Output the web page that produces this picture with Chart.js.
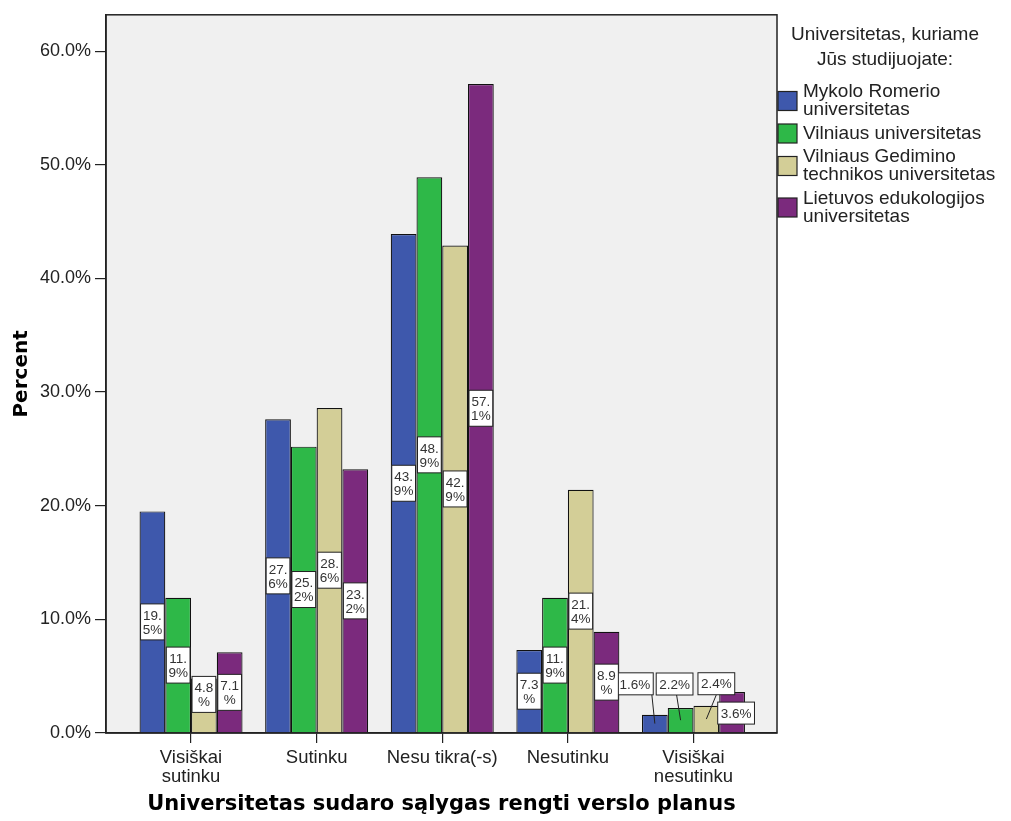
<!DOCTYPE html>
<html>
<head>
<meta charset="utf-8">
<script src="https://cdn.jsdelivr.net/npm/chart.js@4.4.1/dist/chart.umd.min.js"></script>
<style>
  html, body { margin: 0; padding: 0; background: #fff; }
</style>
</head>
<body>
<canvas id="chart" width="1011" height="821"></canvas>
<script>
// --- data ---
const categories = [['Visiškai', 'sutinku'], 'Sutinku', 'Nesu tikra(-s)', 'Nesutinku', ['Visiškai', 'nesutinku']];
const seriesNames = [
    ['Mykolo Romerio', 'universitetas'],
    ['Vilniaus universitetas'],
    ['Vilniaus Gedimino', 'technikos universitetas'],
    ['Lietuvos edukologijos', 'universitetas']
];
const mruValues  = [19.5, 27.6, 43.9, 7.3, 1.6];
const vuValues   = [11.9, 25.2, 48.9, 11.9, 2.2];
const vgtuValues = [4.8, 28.6, 42.9, 21.4, 2.4];
const leuValues  = [7.1, 23.2, 57.1, 8.9, 3.6];
const yTicks = [0, 10, 20, 30, 40, 50, 60];
const legendTitle = ['Universitetas, kuriame', 'Jūs studijuojate:'];
const xTitle = 'Universitetas sudaro sąlygas rengti verslo planus';

const colors = ['#3e58ac', '#2eb848', '#d3ce97', '#7b2a7d'];
const allValues = [mruValues, vuValues, vgtuValues, leuValues];

// label placement for the last (small) group: offset from bar centre / bar top,
// plus where the leader line leaves the box
const smallLabelOffsets = [[-20, -31], [-6, -24], [10, -22], [4, 21]];
const leaderStartDx = [17, 2, 0, 0];

// --- plugin: grey plot background + frame ---
const framePlugin = {
    id: 'frame',
    beforeDraw(chart) {
        const { ctx, chartArea: a } = chart;
        ctx.save();
        ctx.fillStyle = '#f0f0f0';
        ctx.fillRect(a.left, a.top, a.right - a.left, a.bottom - a.top);
        ctx.restore();
    },
    afterDraw(chart) {
        const { ctx, chartArea: a } = chart;
        ctx.save();
        ctx.strokeStyle = '#222';
        ctx.lineWidth = 1.5;
        ctx.strokeRect(a.left, a.top, a.right - a.left, a.bottom - a.top);
        ctx.restore();
    }
};

// --- plugin: white value boxes on bars ---
const labelPlugin = {
    id: 'barLabels',
    afterDatasetsDraw(chart) {
        const ctx = chart.ctx;
        const last = categories.length - 1;
        ctx.save();
        ctx.font = '13.5px "Liberation Sans"';
        ctx.textAlign = 'center';
        ctx.textBaseline = 'middle';
        chart.data.datasets.forEach((ds, di) => {
            chart.getDatasetMeta(di).data.forEach((bar, i) => {
                const text = ds.data[i].y.toFixed(1) + '%';
                const midY = (bar.y + bar.base) / 2;
                if (i === last) {
                    const [dx, dy] = smallLabelOffsets[di];
                    const w = ctx.measureText(text).width + 6, h = 22;
                    const cx = bar.x + dx, cy = bar.y + dy;
                    if (dy < 0) {
                        ctx.strokeStyle = '#222';
                        ctx.lineWidth = 1;
                        ctx.beginPath();
                        ctx.moveTo(cx + leaderStartDx[di], cy + h / 2);
                        ctx.lineTo(bar.x, midY);
                        ctx.stroke();
                    }
                    ctx.fillStyle = '#fff';
                    ctx.fillRect(cx - w / 2, cy - h / 2, w, h);
                    ctx.strokeStyle = '#222';
                    ctx.lineWidth = 1;
                    ctx.strokeRect(cx - w / 2, cy - h / 2, w, h);
                    ctx.fillStyle = '#333';
                    ctx.fillText(text, cx, cy + 1);
                } else {
                    const w = bar.width - 2, h = 36;
                    const cy = Math.min(midY, bar.base - 38);
                    ctx.fillStyle = '#fff';
                    ctx.fillRect(bar.x - w / 2, cy - h / 2, w, h);
                    ctx.strokeStyle = '#222';
                    ctx.lineWidth = 1;
                    ctx.strokeRect(bar.x - w / 2, cy - h / 2, w, h);
                    ctx.fillStyle = '#333';
                    ctx.fillText(text.slice(0, 3), bar.x, cy - 6);
                    ctx.fillText(text.slice(3), bar.x, cy + 8);
                }
            });
        });
        ctx.restore();
    }
};

// --- plugin: SPSS-like legend on the right ---
const legendPlugin = {
    id: 'sideLegend',
    afterDraw(chart) {
        const ctx = chart.ctx;
        ctx.save();
        ctx.fillStyle = '#222';
        ctx.textBaseline = 'middle';
        ctx.font = '19px "Liberation Sans"';
        ctx.textAlign = 'center';
        ctx.fillText(legendTitle[0], 885, 35);
        ctx.fillText(legendTitle[1], 885, 60);

        ctx.font = '19px "Liberation Sans"';
        ctx.textAlign = 'left';
        let y = 92;
        seriesNames.forEach((lines, i) => {
            const first = y, lastY = y + (lines.length - 1) * 18;
            const mid = (first + lastY) / 2;
            ctx.fillStyle = colors[i];
            ctx.fillRect(778, mid - 9.5, 19, 19);
            ctx.strokeStyle = '#222';
            ctx.lineWidth = 1.2;
            ctx.strokeRect(778, mid - 9.5, 19, 19);
            ctx.fillStyle = '#222';
            lines.forEach((t, k) => ctx.fillText(t, 803, first + k * 18));
            y = lastY + 23.5;
        });
        ctx.restore();
    }
};

const ctx = document.getElementById('chart').getContext('2d');
new Chart(ctx, {
    type: 'bar',
    data: {
        datasets: allValues.map((vals, i) => ({
            label: seriesNames[i].join(' '),
            data: vals.map((v, k) => ({ x: k, y: v })),
            backgroundColor: colors[i],
            borderColor: '#111',
            borderWidth: 1.2,
            categoryPercentage: 0.82,
            barPercentage: 1
        }))
    },
    options: {
        responsive: false,
        animation: false,
        devicePixelRatio: 1,
        layout: { padding: { left: 0, top: 13, right: 234, bottom: 0 } },
        plugins: {
            legend: { display: false },
            tooltip: { enabled: false }
        },
        scales: {
            x: {
                type: 'linear',
                offset: false,
                min: -0.677,
                max: 4.665,
                afterBuildTicks: s => { s.ticks = categories.map((c, k) => ({ value: k })); },
                afterFit: s => { s.height = 88; },
                ticks: {
                    autoSkip: false,
                    maxRotation: 0,
                    padding: 5.5,
                    color: '#222',
                    font: { family: 'Liberation Sans', size: 18.5, lineHeight: 1.03 },
                    callback: v => categories[v]
                },
                grid: { display: true, drawOnChartArea: false, offset: false, tickLength: 10, color: '#222', lineWidth: 1.2 },
                border: { display: true, color: '#222', width: 1.5 },
                title: {
                    display: true,
                    text: xTitle,
                    color: '#000',
                    font: { family: 'DejaVu Sans', size: 21, weight: 'bold' },
                    padding: { top: 0, bottom: 4 }
                }
            },
            y: {
                min: 0,
                max: 63.2,
                afterBuildTicks: s => { s.ticks = yTicks.map(v => ({ value: v })); },
                afterFit: s => { s.width = 106; },
                ticks: {
                    padding: 4,
                    color: '#222',
                    font: { family: 'Liberation Sans', size: 18 },
                    callback: v => v.toFixed(1) + '%'
                },
                grid: { display: true, drawOnChartArea: false, tickLength: 11, color: '#222', lineWidth: 1.2 },
                border: { display: true, color: '#222', width: 1.5 },
                title: {
                    display: true,
                    text: 'Percent',
                    color: '#000',
                    font: { family: 'DejaVu Sans', size: 20, weight: 'bold' },
                    padding: { top: 10, bottom: 0 }
                }
            }
        }
    },
    plugins: [framePlugin, labelPlugin, legendPlugin]
});
</script>
</body>
</html>
